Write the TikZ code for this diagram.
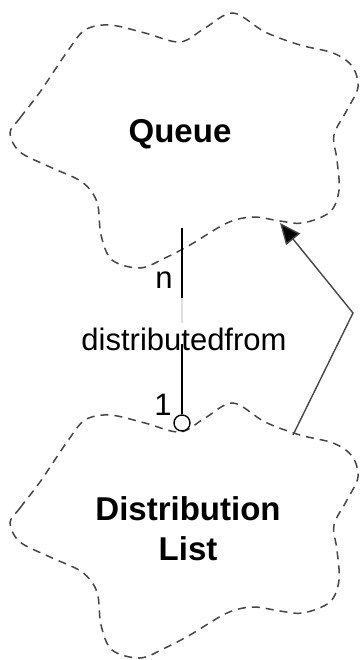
\documentclass[tikz,border=0pt]{standalone}
\usepackage{fontspec}
\setmainfont{Liberation Sans}
\usetikzlibrary{arrows.meta}
\definecolor{linegray}{HTML}{464646}
\tikzset{
  cloud/.pic={
    \draw[linegray,line width=1.5pt,dash pattern=on 8pt off 6pt]
      plot[smooth cycle,tension=0.55] coordinates {
      (10,133) (20,118) (40,92) (67,52) (85,30) (110,25) (145,33) (180,42)
      (205,28) (233,13) (265,32) (300,45) (333,53) (352,66) (358,87)
      (347,110) (334,135) (337,160) (339,190) (330,212) (303,223) (280,221)
      (253,217) (227,223) (190,245) (165,258) (140,268) (112,260) (101,235)
      (97,202) (82,182) (50,167) (20,152)};
  },
  classname/.style={font=\fontsize{33}{40}\selectfont\bfseries,
    align=center,inner sep=0pt},
  rolename/.style={font=\fontsize{31}{36}\selectfont,inner sep=0pt},
  assoc/.style={line width=1.6pt,black},
  generalize/.style={linegray,line width=1.4pt,-{Triangle[length=21pt,width=18pt,fill=black]}}
}
\begin{document}
\begin{tikzpicture}[x=1pt,y=-1pt]
    \useasboundingbox (0,0) rectangle (359,660);
    % the two clouds
    \foreach \dy in {0,390}
    \pic at (0,\dy) {cloud};

    % class names
    \node[classname,anchor=base] (queue) at (180,143) {Queue};
    \node[classname,anchor=base] (distlist) at (188,560) {Distribution\\List};

    % association with its ends
    \coordinate (qend) at (182,228);
    \coordinate (nmid) at (182,298);
    \node[circle,draw,line width=1.4pt,minimum size=16pt,inner sep=0pt] (dend) at (182,423) {};
    \node[rolename,anchor=base] (assocname) at (184,350) {distributedfrom};
    \node[rolename,anchor=base] (nlabel) at (164,288) {n};
    \node[rolename,anchor=base] (onelabel) at (163,415) {1};
    \draw[assoc] (qend) -- (nmid);
    \draw[gray!25,line width=1.4pt] (nmid) -- (182,323);
    \draw[assoc] (182,344) -- (dend.north);

    % generalization arrow
    \coordinate (genstart) at (293,435);
    \coordinate (genbend) at (353,313);
    \coordinate (gentip) at (280,223);
    \draw[generalize] (genstart) -- (genbend) -- (gentip);
\end{tikzpicture}
\end{document}
